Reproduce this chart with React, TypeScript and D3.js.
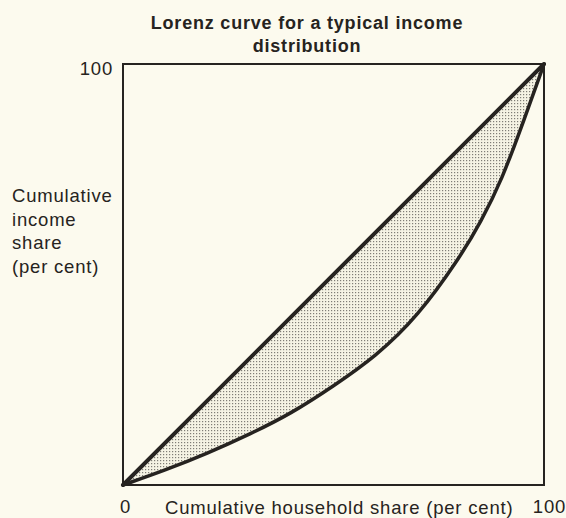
import React, { useRef, useEffect } from 'react';
import * as d3 from 'd3';

// cumulative household share (%) and cumulative income share (%)
const householdShare = [0, 10, 20, 30, 40, 50, 60, 70, 80, 85, 90, 95, 100];
const incomeShare = [0, 3.5, 7.5, 12, 17, 23.5, 30.5, 40, 54, 62.5, 72.5, 86, 100];
const xTicks = [0, 100];
const yTicks = [100];
const titleLines = ['Lorenz curve for a typical income', 'distribution'];
const yLabelLines = ['Cumulative', 'income', 'share', '(per cent)'];
const xLabel = 'Cumulative household share (per cent)';

const ink = '#262320';
const paper = '#fcfaee';
const font = '"Liberation Sans", Arial, sans-serif';

function LorenzChart() {
  const svgRef = useRef<SVGSVGElement>(null);
  const width = 566;
  const height = 518;
  const margin = { top: 64, right: 22, bottom: 33, left: 123 };

  useEffect(() => {
    const xScale = d3.scaleLinear().domain([0, 100]).range([margin.left, width - margin.right]);
    const yScale = d3.scaleLinear().domain([0, 100]).range([height - margin.bottom, margin.top]);

    const svg = d3.select(svgRef.current);
    svg.selectAll('*').remove();

    svg.append('rect').attr('width', width).attr('height', height).attr('fill', paper);

    const defs = svg.append('defs');
    const pat = defs
      .append('pattern')
      .attr('id', 'stipple')
      .attr('patternUnits', 'userSpaceOnUse')
      .attr('width', 3)
      .attr('height', 3);
    pat.append('rect').attr('width', 3).attr('height', 3).attr('fill', '#f5f3e4');
    pat.append('rect').attr('x', 1).attr('y', 1).attr('width', 1.2).attr('height', 1.2).attr('fill', '#7f7d76');

    const points = householdShare.map((h, i) => ({ h, inc: incomeShare[i] }));

    // shaded gap between equality line and the Lorenz curve
    const area = d3
      .area<{ h: number; inc: number }>()
      .x((d) => xScale(d.h))
      .y0((d) => yScale(d.h))
      .y1((d) => yScale(d.inc))
      .curve(d3.curveBasis);
    svg.append('path').attr('d', area(points)).attr('fill', 'url(#stipple)');

    // frame
    svg
      .append('rect')
      .attr('x', xScale(0))
      .attr('y', yScale(100))
      .attr('width', xScale(100) - xScale(0))
      .attr('height', yScale(0) - yScale(100))
      .attr('fill', 'none')
      .attr('stroke', ink)
      .attr('stroke-width', 2);

    // line of equality
    svg
      .append('line')
      .attr('x1', xScale(0))
      .attr('y1', yScale(0))
      .attr('x2', xScale(100))
      .attr('y2', yScale(100))
      .attr('stroke', ink)
      .attr('stroke-width', 4)
      .attr('stroke-linecap', 'round');

    const line = d3
      .line<{ h: number; inc: number }>()
      .x((d) => xScale(d.h))
      .y((d) => yScale(d.inc))
      .curve(d3.curveBasis);
    svg
      .append('path')
      .attr('d', line(points))
      .attr('fill', 'none')
      .attr('stroke', ink)
      .attr('stroke-width', 3.5)
      .attr('stroke-linecap', 'round');

    // axes: only end labels, no ticks
    const xAxisGroup = svg
      .append('g')
      .attr('transform', `translate(0, ${yScale(0)})`)
      .call(d3.axisBottom(xScale).tickValues(xTicks).tickSize(0).tickPadding(15));
    xAxisGroup.select('.domain').remove();
    xAxisGroup
      .selectAll('text')
      .attr('fill', ink)
      .attr('font-size', 18.5)
      .attr('letter-spacing', 0.8)
      .attr('font-family', font);
    xAxisGroup.selectAll('.tick text').attr('dx', (d: any) => (d === 0 ? 2 : 5));

    const yAxisGroup = svg
      .append('g')
      .attr('transform', `translate(${xScale(0)}, 0)`)
      .call(d3.axisLeft(yScale).tickValues(yTicks).tickSize(0).tickPadding(10));
    yAxisGroup.select('.domain').remove();
    yAxisGroup
      .selectAll('text')
      .attr('fill', ink)
      .attr('font-size', 18.5)
      .attr('letter-spacing', 0.8)
      .attr('font-family', font)
      .attr('dy', '0.55em');

    svg
      .append('text')
      .attr('x', 165)
      .attr('y', 514)
      .attr('fill', ink)
      .attr('font-size', 18.5)
      .attr('letter-spacing', 0.8)
      .attr('font-family', font)
      .text(xLabel);

    svg
      .append('g')
      .selectAll('text')
      .data(yLabelLines)
      .enter()
      .append('text')
      .attr('x', 12)
      .attr('y', (d, i) => 202 + i * 23.5)
      .attr('fill', ink)
      .attr('font-size', 18.5)
      .attr('letter-spacing', 0.8)
      .attr('font-family', font)
      .text((d) => d);

    svg
      .append('g')
      .selectAll('text')
      .data(titleLines)
      .enter()
      .append('text')
      .attr('x', 307)
      .attr('y', (d, i) => 29 + i * 22.5)
      .attr('text-anchor', 'middle')
      .attr('fill', ink)
      .attr('font-size', 18)
      .attr('letter-spacing', 0.8)
      .attr('font-weight', 'bold')
      .attr('font-family', font)
      .text((d) => d);
  }, []);

  return <svg ref={svgRef} width={width} height={height} style={{ position: 'absolute', left: 0, top: 0 }} />;
}

export default function App() {
  return <LorenzChart />;
}
